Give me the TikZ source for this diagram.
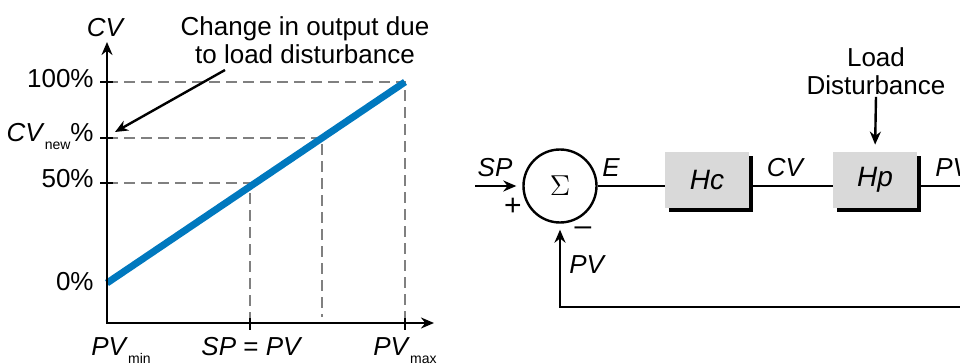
\documentclass[tikz,border=0pt]{standalone}
\usepackage{fontspec}
\setmainfont{Liberation Sans}
\usepackage{tikz}
\usetikzlibrary{arrows.meta,positioning,calc,shadows}
\definecolor{lineblue}{RGB}{0,120,190}
\definecolor{boxgray}{RGB}{217,217,217}
\newcommand{\sub}[1]{\raisebox{-4pt}{\fontsize{7}{7}\selectfont #1}}

\begin{document}
\begin{tikzpicture}[x=0.5pt, y=-0.5pt,
  font=\fontsize{13}{14}\selectfont,
  ax/.style={line width=1.2pt},
  ar/.style={-{Stealth[length=6.5pt, width=5.5pt]}, line width=1.2pt},
  dsh/.style={gray, line width=1pt, dash pattern=on 5.5pt off 3pt},
  lb/.style={inner sep=1pt},
  vr/.style={lb, font=\fontsize{13}{14}\selectfont\itshape},
  blk/.style={fill=boxgray, minimum width=42pt, minimum height=28pt, inner sep=0pt,
    font=\fontsize{14}{15}\selectfont\itshape,
    drop shadow={shadow xshift=2pt, shadow yshift=-2pt, fill=black, opacity=1}},
  sm/.style={circle, draw, line width=1.2pt, minimum size=36.5pt, inner sep=0pt,
    font=\fontsize{14}{15}\selectfont}
]
\useasboundingbox (0,0) rectangle (960,364);

% left: CV versus PV
\coordinate (O) at (107,323);
\coordinate (ytop) at (107,42);
\coordinate (xend) at (434,323);
\coordinate (p0) at (107,283);
\coordinate (p50) at (250,183);
\coordinate (pn) at (322,138);
\coordinate (p100) at (405,82);
\draw[dsh] (O |- p100) -- (p100) -- (p100 |- O);
\draw[dsh] (O |- pn) -- (pn) -- ($(pn |- O)+(0,-6)$);
\draw[dsh] (O |- p50) -- (p50) -- (p50 |- O);
\draw[line width=3.5pt, lineblue] (p0) -- (p100);
\draw[{Stealth[length=6.5pt, width=5.5pt]}-{Stealth[length=6.5pt, width=5.5pt]}, line width=1.2pt] (ytop) -- (O) -- (xend);
\foreach \t in {p100,pn,p50}
  \draw[ax] ($(O |- \t)+(-7,0)$) -- ++(13,0);
\foreach \t in {p50,p100}
  \draw[ax] ($(\t |- O)+(0,-5)$) -- ++(0,12);

\node[vr, anchor=base] (cvax) at (105,37) {CV};
\node[lb, anchor=base east] (l100) at (96,87) {100\%};
\node[lb, anchor=base east] (lnew) at (96,141) {\textit{CV}\sub{new}\%};
\node[lb, anchor=base east] (l50) at (96,187) {50\%};
\node[lb, anchor=base east] (l0) at (96,290) {0\%};
\node[lb, anchor=base west] (pvmin) at (89,355) {\textit{PV}\sub{min}};
\node[lb, anchor=base] (sppv) at (252,355) {\textit{SP} = \textit{PV}};
\node[lb, anchor=base west] (pvmax) at (371,355) {\textit{PV}\sub{max}};

\node[lb, align=center] (note) at (305,40) {Change in output due\\to load disturbance};
\coordinate (nt) at (225,70);
\coordinate (tip) at (115,132);
\draw[ar] (nt) -- (tip);

% right: feedback loop
\node[sm] (sum) at (560,186) {$\Sigma$};
\node[blk] (hc) at (707,180) {Hc};
\node[blk] (hp) at (875,180) {Hp};
\node[lb, align=center] (load) at (876,71) {Load\\Disturbance};
\coordinate (spin) at (475,186);
\coordinate (rt) at (1000,186);
\coordinate (fb) at (1000,307);

\draw[ar, shorten >=3pt] (spin) -- (sum.west);
\draw[ax] (sum.east) -- (hc.west |- sum.east);
\draw[ax] (hc.east |- sum.east) -- (hp.west |- sum.east);
\draw[ax] (hp.east |- sum.east) -- (rt);
\draw[ar, shorten >=3pt] (rt) -- (fb) -| (sum.south);
\draw[ar, shorten >=3.5pt] (load.south) -- (hp.north);

\node[vr, anchor=base] (sp) at (495,176) {SP};
\node[lb, font=\fontsize{15}{15}\selectfont] (plus) at (513,207) {+};
\node[lb, font=\fontsize{15}{15}\selectfont] (minus) at (583,231) {–};
\node[vr, anchor=base] (e) at (611,176) {E};
\node[vr, anchor=base] (cv) at (785,176) {CV};
\node[vr, anchor=base west] (pvout) at (933,176) {PV};
\node[vr, anchor=base west] (pvfb) at (567,273) {PV};
\end{tikzpicture}
\end{document}
